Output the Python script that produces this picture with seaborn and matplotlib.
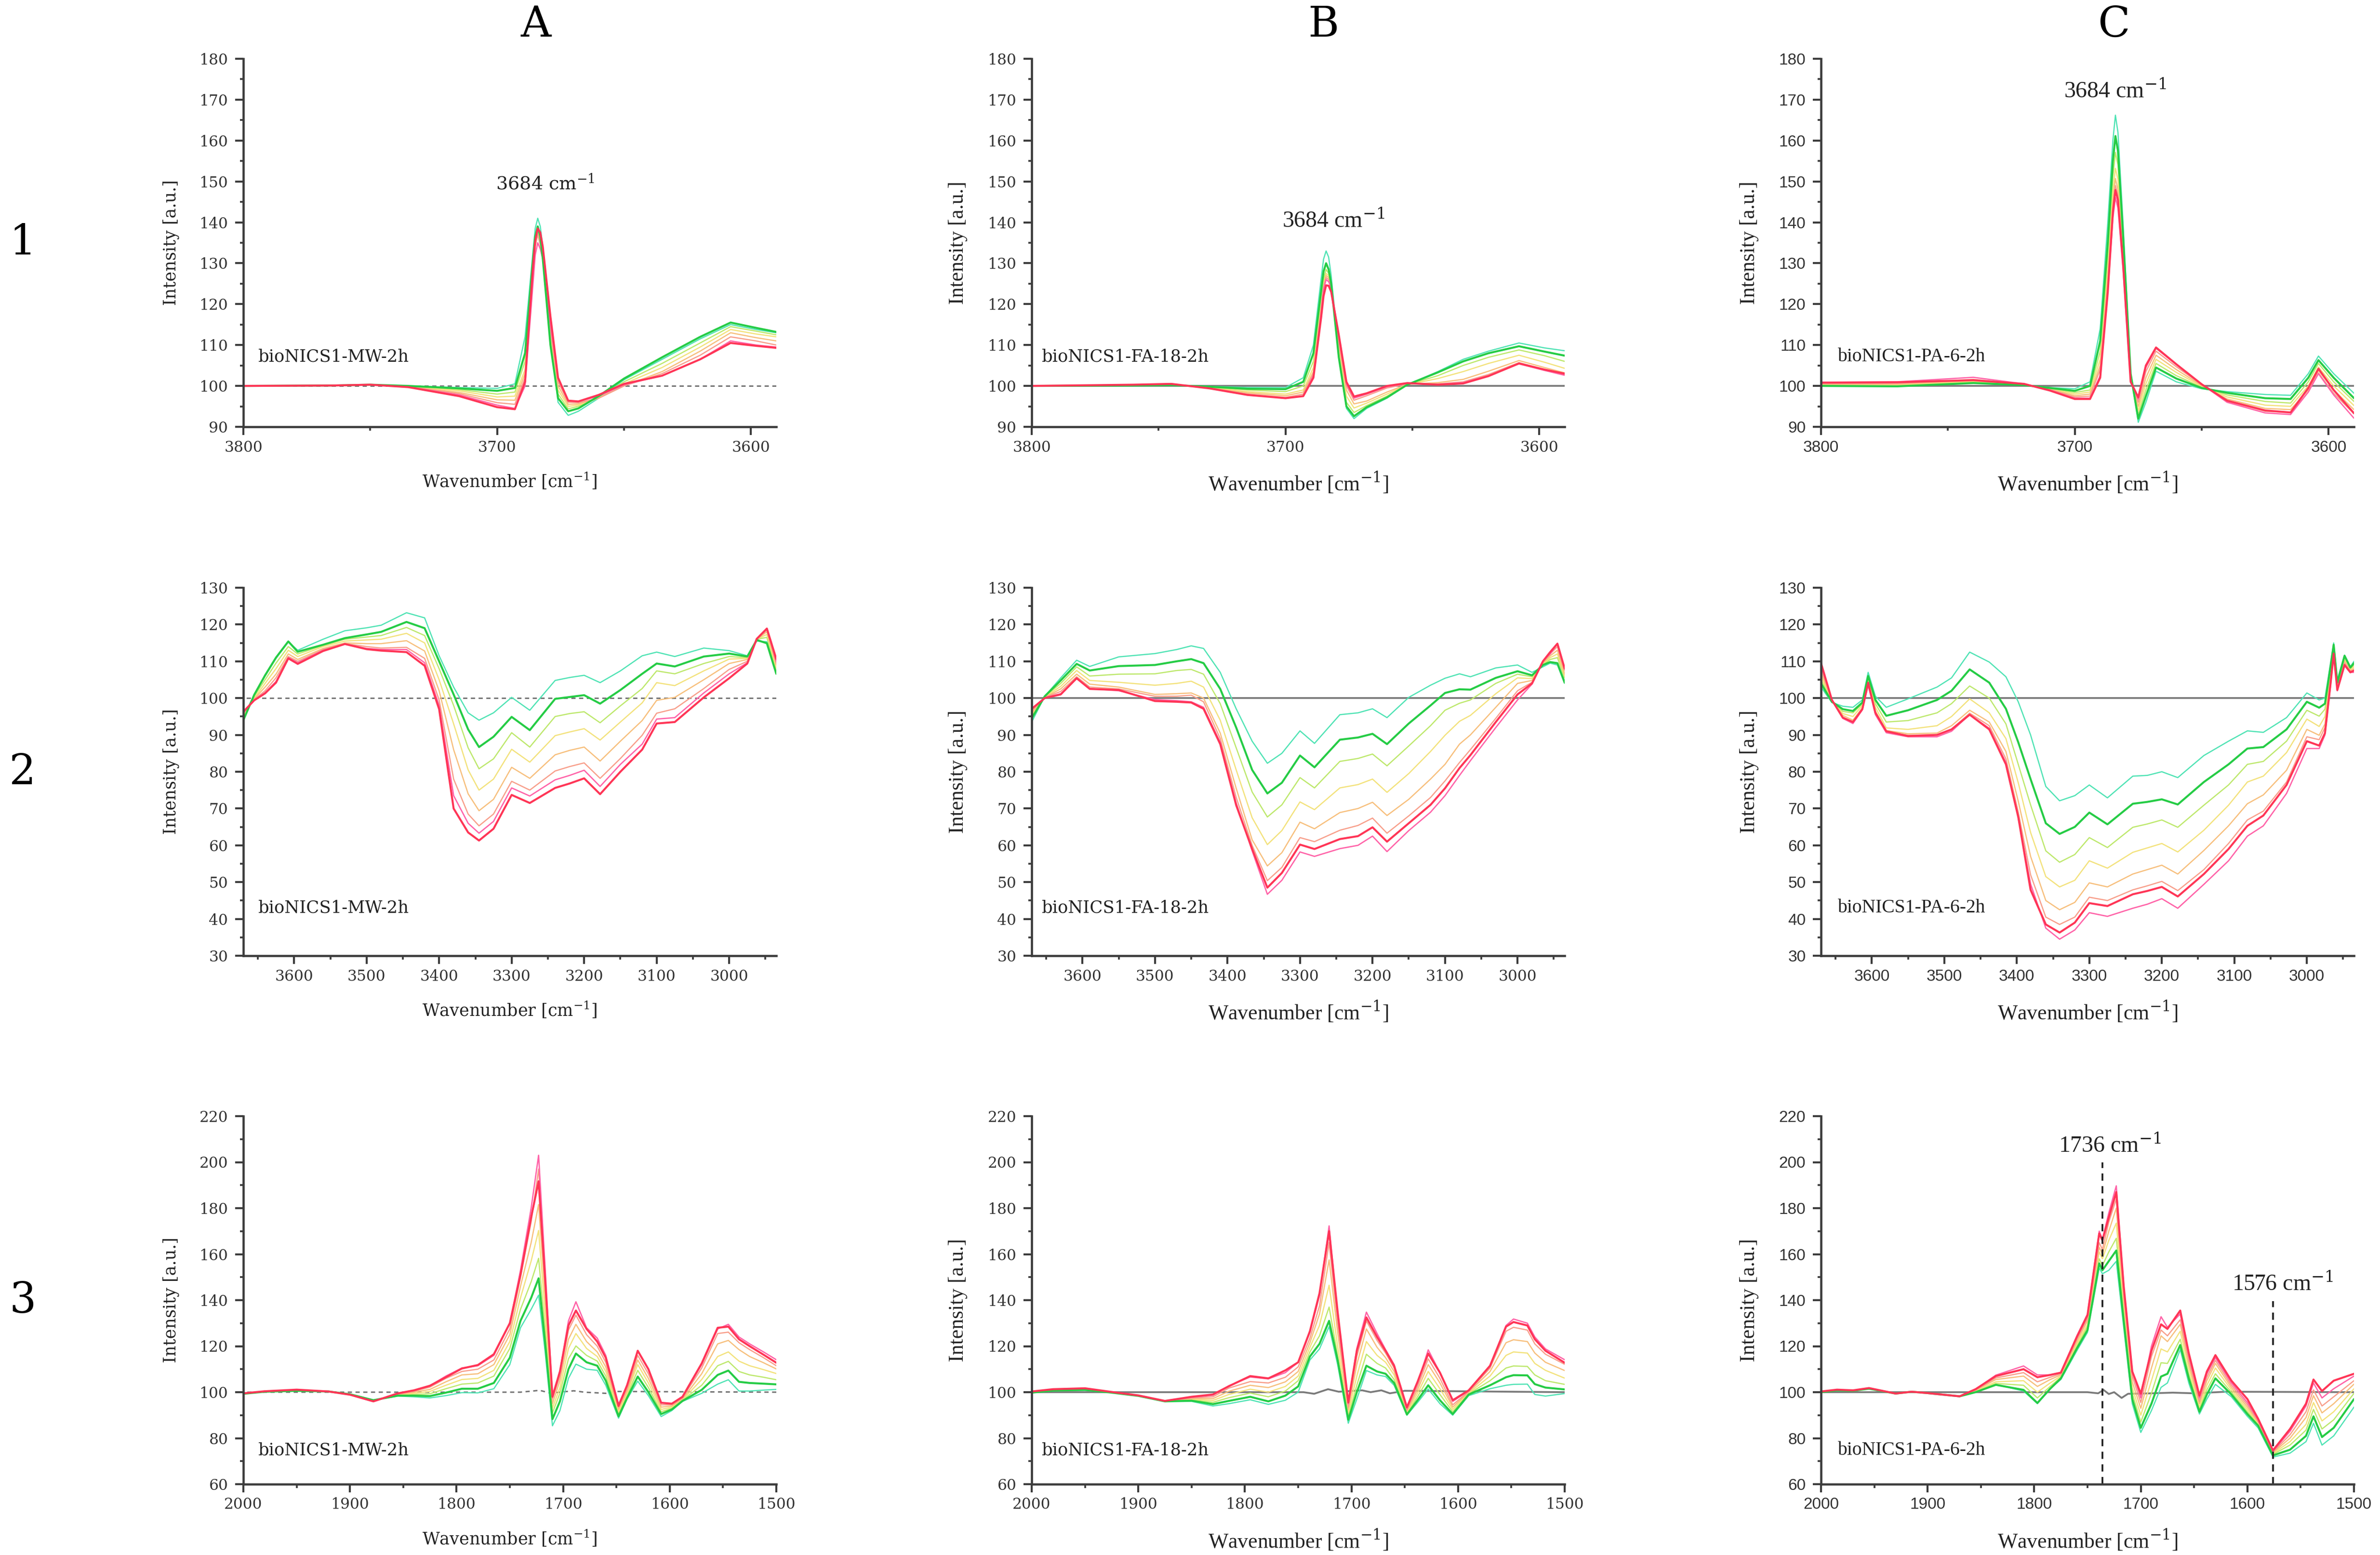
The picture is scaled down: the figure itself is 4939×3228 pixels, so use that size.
import pandas as pd
import matplotlib.pyplot as plt
import seaborn as sns
from matplotlib.ticker import MultipleLocator

sns.set_style("ticks")
plt.rcParams['font.family'] = ['DejaVu Serif']
plt.rcParams['mathtext.fontset'] = 'dejavuserif'

# 8 spectra per panel, from aquamarine to red
CURVES = ['aqua', 'green', 'lightgreen', 'yellow', 'lightorange', 'salmon', 'pink', 'red']
COLORS = {'aqua': '#4fe3b4', 'green': '#25cc45', 'lightgreen': '#bde86c', 'yellow': '#f3e27c',
          'lightorange': '#f7bf7c', 'salmon': '#f89e8a', 'pink': '#ff63a8', 'red': '#ff3556'}
WIDTHS = {'aqua': 0.6, 'green': 1.0, 'lightgreen': 0.6, 'yellow': 0.6,
          'lightorange': 0.6, 'salmon': 0.6, 'pink': 0.65, 'red': 1.0}
DRAW_ORDER = ['aqua', 'lightgreen', 'yellow', 'lightorange', 'salmon', 'pink', 'green', 'red']

SAMPLES = ['bioNICS1-MW-2h', 'bioNICS1-FA-18-2h', 'bioNICS1-PA-6-2h']
COLUMN_TITLES = ['A', 'B', 'C']
ROW_TITLES = ['1', '2', '3']

# rows: wavenumber, aqua, green, lightgreen, yellow, lightorange, salmon, pink, red
A1 = [
    [3800, 100.0, 100.0, 100.0, 100.0, 100.0, 100.0, 100.0, 100.0],
    [3765, 100.1, 100.1, 100.1, 100.1, 100.1, 100.1, 100.1, 100.1],
    [3750, 100.3, 100.3, 100.3, 100.3, 100.3, 100.3, 100.3, 100.3],
    [3735, 100.0, 100.0, 99.9, 99.9, 99.8, 99.8, 99.7, 99.7],
    [3715, 99.6, 99.4, 99.1, 98.8, 98.4, 98.1, 97.8, 97.5],
    [3700, 99.4, 98.8, 98.0, 97.3, 96.6, 95.9, 95.3, 94.8],
    [3693, 100.5, 99.5, 98.5, 97.5, 96.5, 95.5, 94.5, 94.3],
    [3689, 112.0, 108.0, 106.0, 104.0, 103.0, 102.0, 100.0, 101.0],
    [3686, 132.0, 130.0, 129.0, 128.0, 127.0, 126.0, 124.0, 128.0],
    [3685, 138.5, 136.5, 135.5, 135.0, 134.5, 134.0, 132.0, 135.5],
    [3684, 141.0, 139.0, 138.5, 138.0, 137.5, 137.0, 135.0, 138.5],
    [3683, 139.0, 136.5, 136.0, 135.5, 135.0, 134.5, 133.5, 137.5],
    [3682, 134.0, 131.0, 131.0, 131.0, 131.0, 131.0, 131.0, 134.0],
    [3679, 112.0, 110.0, 111.0, 112.0, 113.0, 114.0, 115.0, 117.0],
    [3676, 96.0, 97.0, 98.0, 99.0, 100.0, 101.0, 102.0, 102.0],
    [3672, 92.8, 93.8, 94.4, 95.0, 95.5, 96.0, 96.3, 96.4],
    [3668, 93.8, 94.5, 95.0, 95.3, 95.6, 95.9, 96.2, 96.2],
    [3660, 97.0, 97.5, 97.3, 97.0, 97.0, 97.0, 97.5, 97.8],
    [3650, 101.5, 101.8, 101.0, 100.5, 100.0, 100.0, 100.3, 100.5],
    [3635, 106.5, 107.0, 105.5, 104.5, 103.5, 103.0, 102.5, 102.5],
    [3620, 111.5, 112.0, 110.5, 109.5, 108.5, 107.5, 106.5, 106.5],
    [3608, 115.0, 115.5, 114.5, 113.8, 113.0, 112.0, 111.0, 110.5],
    [3598, 113.8, 114.2, 113.4, 112.7, 111.8, 111.0, 110.0, 109.8],
    [3590, 113.0, 113.2, 112.5, 112.0, 111.0, 110.0, 109.5, 109.3],
]

A2 = [
    [3670, 95.0, 94.0, 94.5, 95.0, 95.5, 96.0, 96.0, 96.3],
    [3655, 100.8, 100.9, 100.5, 100.0, 99.8, 99.6, 99.5, 99.4],
    [3640, 106.0, 106.2, 105.0, 104.0, 103.0, 102.0, 101.5, 101.3],
    [3625, 110.8, 111.0, 109.5, 108.0, 106.5, 105.5, 104.5, 104.2],
    [3608, 115.3, 115.4, 114.0, 113.0, 112.0, 111.3, 111.0, 110.8],
    [3595, 113.0, 112.6, 112.0, 111.3, 110.5, 110.0, 109.6, 109.3],
    [3560, 116.0, 114.5, 114.3, 114.0, 113.5, 113.2, 113.0, 112.8],
    [3530, 118.3, 116.3, 116.0, 115.5, 115.0, 114.8, 114.7, 114.7],
    [3500, 119.1, 117.3, 116.6, 115.8, 114.8, 114.0, 113.5, 113.3],
    [3480, 119.8, 118.0, 117.0, 116.0, 114.8, 113.6, 113.2, 112.9],
    [3445, 123.2, 120.7, 119.2, 117.6, 115.6, 113.8, 113.2, 112.5],
    [3420, 121.8, 119.0, 117.0, 115.0, 112.8, 110.8, 109.6, 108.8],
    [3400, 111.5, 110.0, 108.0, 105.0, 102.0, 99.5, 98.0, 97.0],
    [3380, 103.0, 101.0, 98.0, 93.0, 86.0, 78.0, 73.5, 70.0],
    [3360, 96.0, 91.5, 86.5, 80.5, 74.0, 68.5, 66.0, 63.5],
    [3345, 94.0, 86.7, 80.8, 75.0, 69.4, 65.3, 63.3, 61.3],
    [3325, 96.0, 89.5, 83.5, 78.0, 72.5, 68.5, 66.5, 64.5],
    [3300, 100.2, 94.9, 90.6, 86.1, 81.2, 77.4, 75.6, 73.7],
    [3275, 96.7, 91.3, 86.7, 82.6, 78.2, 75.0, 73.4, 71.5],
    [3240, 104.8, 99.8, 95.0, 89.8, 84.6, 80.2, 77.8, 75.6],
    [3220, 105.6, 100.3, 95.8, 90.8, 85.8, 81.4, 79.0, 76.8],
    [3200, 106.2, 100.8, 96.3, 91.7, 86.7, 82.4, 80.4, 78.2],
    [3178, 104.2, 98.5, 93.3, 88.6, 82.9, 78.2, 76.0, 73.9],
    [3150, 107.4, 102.2, 97.9, 93.5, 88.3, 83.6, 82.0, 80.0],
    [3120, 111.5, 106.6, 102.6, 98.7, 93.9, 89.9, 87.5, 86.0],
    [3100, 112.5, 109.4, 107.4, 104.2, 99.4, 95.9, 94.3, 93.1],
    [3075, 111.3, 108.6, 106.6, 103.4, 100.2, 97.1, 94.7, 93.5],
    [3035, 113.6, 111.3, 109.4, 107.4, 105.0, 102.6, 101.4, 100.2],
    [3000, 112.9, 112.1, 111.3, 110.6, 109.4, 107.8, 106.6, 105.4],
    [2975, 111.5, 111.3, 111.0, 110.8, 110.5, 110.0, 109.6, 109.4],
    [2962, 115.5, 115.8, 116.0, 116.0, 116.0, 116.0, 116.1, 116.1],
    [2948, 115.3, 114.9, 116.5, 117.3, 118.0, 118.5, 118.9, 118.9],
    [2935, 107.0, 106.6, 107.5, 108.0, 109.0, 109.5, 110.0, 110.6],
]

A3 = [
    [2000, 99.3, 99.3, 99.4, 99.4, 99.5, 99.5, 99.5, 99.5],
    [1980, 100.2, 100.2, 100.3, 100.3, 100.4, 100.4, 100.4, 100.4],
    [1950, 100.5, 100.6, 100.7, 100.8, 100.9, 101.0, 101.0, 101.1],
    [1920, 100.3, 100.3, 100.3, 100.3, 100.3, 100.3, 100.3, 100.3],
    [1900, 99.1, 99.1, 99.0, 99.0, 99.0, 98.9, 98.9, 98.9],
    [1878, 96.6, 96.5, 96.4, 96.3, 96.2, 96.1, 96.0, 96.0],
    [1855, 98.3, 98.5, 98.6, 98.8, 99.0, 99.2, 99.4, 99.5],
    [1840, 98.0, 98.5, 99.0, 99.5, 100.0, 100.4, 100.8, 100.8],
    [1825, 97.5, 98.3, 99.3, 100.3, 101.2, 102.2, 102.8, 102.8],
    [1810, 98.5, 99.8, 101.5, 103.0, 104.5, 106.0, 107.0, 106.5],
    [1795, 99.8, 101.5, 103.5, 105.5, 107.5, 109.0, 110.5, 110.3],
    [1780, 99.7, 101.5, 104.0, 106.0, 108.0, 110.0, 111.5, 111.8],
    [1765, 101.5, 104.0, 107.0, 109.5, 112.0, 114.0, 116.0, 116.5],
    [1750, 112.0, 115.0, 119.0, 122.0, 125.0, 127.5, 130.0, 130.0],
    [1740, 128.0, 131.0, 136.0, 141.0, 146.0, 150.0, 153.0, 151.0],
    [1730, 136.0, 141.0, 148.0, 157.0, 165.0, 174.0, 180.0, 176.0],
    [1723, 142.2, 149.5, 158.2, 170.3, 181.6, 197.0, 203.0, 191.7],
    [1717, 118.0, 122.0, 128.0, 135.0, 142.0, 150.0, 155.0, 150.0],
    [1710, 85.4, 88.3, 91.0, 93.0, 95.0, 97.0, 98.5, 98.0],
    [1703, 92.0, 96.0, 99.5, 102.0, 105.0, 107.0, 109.0, 109.0],
    [1695, 106.0, 110.0, 114.5, 119.0, 123.0, 127.0, 131.0, 129.0],
    [1688, 112.2, 116.8, 120.1, 125.5, 129.5, 133.5, 139.3, 135.5],
    [1678, 110.0, 113.0, 116.0, 119.0, 122.0, 125.0, 128.0, 127.5],
    [1668, 109.5, 111.5, 113.5, 115.5, 117.5, 120.0, 123.5, 122.0],
    [1660, 103.0, 105.0, 107.0, 109.0, 111.0, 113.0, 116.0, 115.0],
    [1648, 88.7, 89.5, 90.5, 91.5, 92.5, 93.5, 94.7, 94.0],
    [1640, 97.0, 97.5, 98.5, 99.5, 100.5, 101.5, 103.0, 103.0],
    [1630, 104.8, 106.8, 109.5, 112.0, 114.0, 116.0, 118.1, 118.0],
    [1620, 98.5, 100.0, 102.0, 104.0, 106.0, 108.0, 110.0, 110.0],
    [1608, 89.4, 90.5, 91.5, 92.5, 93.5, 94.5, 95.4, 95.4],
    [1598, 92.0, 92.5, 93.0, 93.5, 94.0, 94.5, 95.0, 95.0],
    [1588, 96.0, 96.2, 96.5, 96.7, 97.0, 97.5, 98.0, 98.0],
    [1570, 99.5, 101.0, 103.0, 105.5, 108.0, 110.5, 112.0, 112.5],
    [1555, 103.5, 107.5, 111.5, 115.5, 121.0, 125.5, 127.5, 128.0],
    [1545, 105.4, 109.4, 113.4, 117.5, 122.5, 126.1, 129.5, 128.5],
    [1535, 100.5, 104.5, 109.0, 113.5, 118.5, 121.5, 124.0, 123.0],
    [1525, 100.5, 104.0, 107.5, 111.5, 115.5, 118.5, 121.0, 120.0],
    [1512, 100.9, 103.7, 106.5, 109.8, 112.8, 115.0, 117.5, 116.3],
    [1500, 101.2, 103.4, 105.4, 108.1, 110.1, 111.5, 114.1, 112.8],
]

B1 = [
    [3800, 100.0, 100.0, 100.0, 100.0, 100.0, 100.0, 100.0, 100.0],
    [3760, 100.1, 100.1, 100.1, 100.2, 100.2, 100.3, 100.3, 100.3],
    [3745, 100.2, 100.2, 100.3, 100.3, 100.4, 100.5, 100.5, 100.5],
    [3730, 99.9, 99.8, 99.7, 99.6, 99.5, 99.5, 99.4, 99.4],
    [3715, 99.6, 99.3, 99.0, 98.6, 98.3, 98.0, 97.8, 97.8],
    [3700, 99.6, 99.2, 98.6, 98.0, 97.6, 97.2, 97.0, 97.0],
    [3693, 102.0, 101.0, 100.0, 99.0, 98.5, 98.0, 97.5, 97.5],
    [3689, 110.0, 108.0, 106.0, 104.5, 103.5, 103.0, 102.5, 102.0],
    [3686, 126.0, 123.0, 121.0, 120.0, 119.0, 118.0, 117.5, 116.5],
    [3685, 131.0, 128.0, 126.0, 125.0, 124.5, 124.0, 123.5, 122.0],
    [3684, 133.0, 130.0, 128.5, 127.5, 127.0, 126.5, 126.0, 124.6],
    [3683, 131.5, 128.5, 127.5, 127.0, 126.5, 126.0, 125.5, 124.5],
    [3682, 127.0, 125.0, 124.5, 124.0, 124.0, 124.0, 124.0, 123.0],
    [3679, 108.0, 107.0, 108.0, 109.0, 110.0, 111.0, 112.0, 112.5],
    [3676, 94.5, 95.0, 96.0, 97.5, 99.0, 100.0, 100.5, 101.0],
    [3673, 92.0, 92.6, 93.5, 94.6, 95.6, 96.5, 97.0, 97.4],
    [3668, 94.5, 94.8, 95.2, 95.8, 96.3, 97.6, 98.0, 98.2],
    [3660, 97.0, 97.2, 97.5, 98.0, 98.5, 99.5, 99.8, 100.0],
    [3652, 100.3, 100.3, 100.3, 100.3, 100.4, 100.5, 100.6, 100.7],
    [3640, 103.5, 103.3, 102.5, 101.8, 100.8, 100.5, 100.4, 100.3],
    [3630, 106.5, 106.0, 105.0, 103.5, 101.6, 101.0, 100.8, 100.6],
    [3620, 108.5, 108.0, 107.0, 105.5, 103.6, 102.8, 102.5, 102.4],
    [3608, 110.5, 109.7, 108.8, 107.5, 106.2, 105.7, 105.4, 105.5],
    [3598, 109.3, 108.4, 107.4, 105.8, 104.5, 104.0, 103.8, 104.0],
    [3590, 108.6, 107.4, 106.0, 104.3, 103.2, 102.8, 102.6, 103.0],
]

B2 = [
    [3670, 93.5, 94.5, 95.0, 95.5, 96.0, 96.5, 97.0, 97.1],
    [3652, 100.5, 100.5, 100.4, 100.3, 100.2, 100.2, 100.1, 100.0],
    [3630, 105.5, 104.8, 104.0, 103.2, 102.5, 101.8, 101.2, 101.0],
    [3608, 110.3, 109.3, 108.5, 107.5, 106.5, 105.8, 105.3, 105.4],
    [3590, 108.6, 107.5, 106.0, 104.8, 103.8, 103.0, 102.6, 102.5],
    [3550, 111.2, 108.7, 106.5, 104.3, 103.0, 102.5, 102.0, 102.2],
    [3500, 112.1, 109.0, 106.6, 103.5, 101.0, 100.5, 99.6, 99.2],
    [3470, 113.2, 110.0, 107.5, 104.0, 101.2, 100.5, 99.3, 99.0],
    [3450, 114.2, 110.6, 107.8, 104.6, 101.4, 100.8, 99.0, 98.8],
    [3433, 113.5, 109.5, 106.5, 103.0, 100.0, 99.0, 97.5, 97.1],
    [3410, 107.0, 102.5, 98.5, 94.0, 90.5, 89.0, 88.0, 87.5],
    [3388, 97.1, 92.0, 86.5, 80.5, 75.5, 73.0, 71.5, 70.9],
    [3366, 88.3, 80.5, 74.5, 67.5, 61.5, 60.0, 58.5, 59.0],
    [3345, 82.3, 74.1, 67.7, 60.2, 54.4, 50.4, 46.7, 48.5],
    [3325, 85.0, 77.0, 71.0, 64.0, 58.0, 54.0, 50.5, 52.5],
    [3300, 91.1, 84.4, 78.4, 71.8, 66.3, 62.1, 58.2, 60.2],
    [3280, 87.7, 81.2, 75.6, 69.7, 64.5, 61.0, 57.0, 59.0],
    [3245, 95.5, 88.7, 82.8, 75.6, 68.9, 64.1, 59.1, 61.7],
    [3220, 96.0, 89.3, 83.6, 76.5, 70.0, 65.4, 60.0, 62.5],
    [3200, 97.1, 90.3, 84.8, 78.0, 71.7, 67.4, 62.5, 64.9],
    [3180, 94.7, 87.5, 81.6, 74.4, 68.1, 63.3, 58.3, 61.0],
    [3150, 100.2, 93.1, 87.0, 79.5, 72.5, 68.0, 64.0, 66.0],
    [3120, 103.5, 98.0, 92.5, 85.5, 78.0, 73.0, 69.0, 71.0],
    [3100, 105.4, 101.4, 96.7, 89.9, 82.0, 77.5, 73.5, 75.5],
    [3080, 106.6, 102.4, 98.6, 93.7, 87.5, 82.5, 79.0, 81.0],
    [3065, 105.8, 102.3, 99.5, 95.3, 90.0, 86.0, 83.0, 84.5],
    [3030, 108.2, 105.5, 104.0, 101.2, 97.5, 94.5, 92.0, 93.5],
    [3000, 109.0, 107.3, 106.5, 105.5, 104.0, 102.0, 99.5, 101.0],
    [2980, 107.0, 106.2, 105.8, 105.3, 104.8, 104.3, 103.8, 104.0],
    [2965, 108.5, 109.0, 109.0, 109.3, 109.5, 109.8, 110.0, 110.0],
    [2955, 109.5, 109.8, 110.5, 111.0, 111.5, 112.0, 112.0, 112.5],
    [2945, 109.0, 109.5, 111.0, 112.0, 113.0, 114.0, 114.8, 114.8],
    [2935, 104.0, 104.2, 105.5, 106.0, 106.5, 107.5, 108.0, 108.0],
]

B3 = [
    [2000, 99.7, 99.8, 99.9, 100.0, 100.1, 100.2, 100.3, 100.3],
    [1980, 100.6, 100.7, 100.8, 100.9, 101.0, 101.1, 101.2, 101.3],
    [1950, 100.8, 101.0, 101.1, 101.3, 101.4, 101.5, 101.6, 101.7],
    [1925, 99.8, 99.8, 99.9, 99.9, 100.0, 100.0, 100.0, 100.1],
    [1900, 98.4, 98.4, 98.5, 98.5, 98.5, 98.5, 98.6, 98.6],
    [1875, 96.0, 96.0, 96.1, 96.1, 96.2, 96.2, 96.2, 96.2],
    [1850, 96.0, 96.3, 96.6, 96.9, 97.2, 97.5, 97.8, 98.0],
    [1830, 94.0, 94.8, 95.6, 96.4, 97.2, 98.0, 98.7, 99.0],
    [1815, 95.0, 96.2, 97.6, 99.0, 100.4, 101.8, 102.8, 102.6],
    [1795, 96.7, 98.0, 99.6, 101.3, 103.0, 104.6, 106.6, 107.0],
    [1778, 94.7, 96.0, 98.0, 100.0, 102.0, 104.0, 105.8, 106.0],
    [1762, 96.5, 98.5, 100.5, 102.5, 104.5, 106.5, 108.5, 109.5],
    [1750, 100.0, 102.5, 105.0, 107.0, 109.0, 111.0, 113.0, 113.0],
    [1739, 114.0, 115.5, 117.5, 119.5, 121.5, 123.5, 126.0, 126.5],
    [1730, 118.8, 121.0, 124.5, 129.0, 134.0, 137.5, 142.0, 143.0],
    [1721, 128.5, 131.0, 137.0, 146.5, 157.5, 165.0, 172.3, 170.0],
    [1713, 112.0, 114.0, 116.0, 120.0, 126.0, 130.0, 134.0, 135.0],
    [1703, 86.5, 88.0, 89.5, 91.0, 92.5, 93.5, 95.0, 95.5],
    [1695, 97.0, 100.0, 103.0, 107.0, 112.0, 115.5, 119.0, 118.0],
    [1686, 109.4, 111.5, 116.5, 122.0, 127.5, 131.0, 134.8, 132.5],
    [1676, 107.5, 109.0, 112.5, 116.0, 119.5, 122.5, 125.5, 124.0],
    [1668, 106.8, 108.0, 110.5, 113.0, 115.0, 117.0, 118.5, 118.0],
    [1660, 103.0, 104.0, 105.5, 107.5, 109.0, 110.5, 112.0, 111.5],
    [1648, 90.0, 90.3, 90.7, 91.2, 91.8, 92.3, 93.0, 93.4],
    [1638, 95.5, 96.5, 98.0, 99.5, 101.0, 102.5, 104.0, 104.5],
    [1628, 101.4, 103.0, 106.0, 109.0, 112.0, 114.5, 118.4, 116.8],
    [1617, 95.0, 96.5, 99.0, 101.5, 104.0, 106.0, 108.5, 108.5],
    [1605, 90.0, 90.5, 91.5, 92.5, 93.5, 94.5, 96.0, 96.5],
    [1590, 98.5, 99.0, 99.3, 99.6, 100.0, 100.3, 100.6, 100.8],
    [1570, 101.5, 103.0, 105.0, 107.0, 109.0, 110.5, 111.5, 111.5],
    [1555, 103.0, 106.5, 110.5, 116.0, 121.5, 126.5, 129.0, 128.5],
    [1548, 103.4, 107.4, 111.4, 117.5, 122.8, 128.2, 131.8, 130.5],
    [1535, 103.5, 107.3, 111.2, 117.0, 122.0, 127.0, 130.0, 129.0],
    [1528, 99.0, 103.5, 107.5, 112.5, 117.0, 121.0, 124.0, 123.0],
    [1518, 98.3, 102.0, 105.0, 109.5, 113.0, 116.5, 118.8, 118.0],
    [1500, 99.4, 101.2, 103.4, 106.1, 109.4, 112.1, 114.1, 112.8],
]

C1 = [
    [3800, 100.0, 100.0, 100.1, 100.2, 100.4, 100.6, 100.9, 100.8],
    [3770, 100.0, 99.9, 100.1, 100.2, 100.4, 100.6, 101.0, 100.9],
    [3740, 100.7, 100.7, 100.9, 101.1, 101.3, 101.6, 102.1, 101.4],
    [3720, 100.2, 100.2, 100.3, 100.3, 100.4, 100.4, 100.5, 100.5],
    [3710, 99.6, 99.5, 99.4, 99.3, 99.2, 99.1, 99.0, 98.9],
    [3700, 99.3, 98.8, 98.4, 98.0, 97.6, 97.3, 97.0, 96.8],
    [3694, 101.0, 100.0, 99.0, 98.5, 98.0, 97.5, 97.0, 96.8],
    [3690, 114.0, 111.0, 108.5, 106.5, 105.0, 104.0, 102.5, 102.0],
    [3687, 140.0, 135.0, 131.0, 128.0, 126.0, 125.0, 123.0, 123.0],
    [3685, 160.0, 155.0, 151.0, 147.5, 145.0, 143.5, 141.0, 142.5],
    [3684, 166.2, 161.1, 157.1, 153.2, 150.7, 149.0, 146.1, 147.9],
    [3683, 162.0, 157.5, 154.0, 150.5, 148.0, 146.5, 143.5, 145.5],
    [3681, 140.0, 137.0, 135.0, 132.0, 130.5, 130.0, 128.5, 130.0],
    [3678, 103.0, 103.0, 103.0, 102.5, 102.0, 101.5, 101.0, 101.0],
    [3675, 91.1, 92.0, 93.0, 94.0, 95.0, 96.0, 96.8, 97.2],
    [3672, 96.0, 97.5, 99.0, 100.5, 102.0, 103.5, 104.5, 105.0],
    [3668, 103.6, 104.5, 105.5, 106.5, 107.5, 108.5, 109.2, 109.4],
    [3660, 101.0, 101.8, 102.5, 103.3, 104.0, 104.7, 105.2, 105.3],
    [3650, 99.3, 99.5, 99.7, 99.9, 100.1, 100.3, 100.4, 100.4],
    [3640, 98.6, 98.3, 97.8, 97.3, 96.8, 96.3, 96.0, 96.4],
    [3625, 97.9, 97.0, 96.2, 95.3, 94.5, 93.8, 93.4, 94.0],
    [3615, 97.7, 96.8, 95.8, 95.0, 94.2, 93.5, 93.0, 93.5],
    [3608, 103.0, 102.0, 101.0, 100.0, 99.0, 98.5, 98.5, 99.5],
    [3604, 107.3, 106.3, 105.5, 104.6, 103.8, 103.2, 103.0, 104.2],
    [3598, 103.0, 102.0, 101.0, 100.0, 99.0, 98.2, 97.8, 99.0],
    [3590, 98.2, 97.0, 96.2, 95.2, 94.2, 93.2, 92.1, 93.3],
]

C2 = [
    [3670, 103.0, 104.0, 105.0, 106.0, 107.0, 108.0, 109.0, 109.5],
    [3655, 98.8, 99.0, 99.2, 99.3, 99.4, 99.5, 99.5, 99.5],
    [3640, 97.8, 97.0, 96.4, 95.8, 95.3, 94.8, 94.5, 94.7],
    [3626, 97.5, 96.5, 96.0, 95.0, 94.0, 93.5, 93.1, 93.5],
    [3613, 99.5, 98.8, 98.4, 98.0, 97.4, 97.0, 96.8, 97.0],
    [3605, 107.0, 106.0, 105.5, 105.0, 104.2, 103.8, 103.5, 104.2],
    [3595, 100.5, 99.5, 98.5, 97.5, 96.5, 96.0, 95.5, 96.0],
    [3580, 97.5, 95.2, 93.5, 91.9, 91.2, 90.8, 90.6, 91.0],
    [3550, 99.8, 96.7, 93.9, 91.5, 90.3, 89.9, 89.5, 89.7],
    [3510, 103.0, 99.5, 96.0, 92.5, 90.5, 90.0, 89.5, 90.0],
    [3490, 105.5, 102.0, 98.5, 95.0, 92.5, 91.5, 91.0, 91.5],
    [3465, 112.5, 107.8, 103.3, 99.8, 96.7, 95.9, 95.5, 95.5],
    [3438, 109.8, 104.2, 100.0, 96.0, 93.5, 92.5, 91.8, 91.5],
    [3415, 105.8, 97.1, 93.0, 89.0, 85.5, 83.5, 82.5, 82.0],
    [3398, 99.0, 88.0, 82.0, 77.0, 72.0, 69.0, 67.5, 67.7],
    [3381, 90.0, 78.0, 71.0, 63.5, 57.0, 52.0, 49.5, 47.9],
    [3360, 76.0, 66.0, 58.5, 51.5, 45.0, 40.5, 37.5, 38.5],
    [3341, 72.1, 63.1, 55.4, 48.7, 42.5, 38.5, 34.5, 36.3],
    [3320, 73.5, 65.0, 57.5, 50.5, 44.5, 40.5, 37.0, 39.0],
    [3300, 76.4, 68.9, 62.1, 55.8, 49.8, 45.9, 41.7, 44.3],
    [3275, 72.9, 65.7, 59.4, 53.8, 48.7, 45.0, 40.7, 43.5],
    [3240, 78.8, 71.3, 64.9, 58.1, 52.2, 47.9, 42.9, 46.7],
    [3220, 79.0, 71.8, 65.8, 59.3, 53.4, 49.0, 44.0, 47.6],
    [3200, 80.0, 72.5, 66.9, 60.5, 54.6, 50.2, 45.5, 48.7],
    [3178, 78.4, 71.1, 64.9, 58.2, 52.2, 47.7, 42.9, 46.1],
    [3142, 84.4, 77.2, 70.9, 64.1, 58.6, 53.4, 49.4, 52.2],
    [3108, 88.3, 82.0, 76.4, 70.9, 65.3, 60.5, 55.8, 59.0],
    [3082, 91.1, 86.3, 82.0, 77.2, 71.3, 66.9, 62.5, 65.3],
    [3060, 90.7, 86.7, 82.8, 78.8, 73.7, 69.3, 65.3, 68.1],
    [3028, 94.7, 91.5, 88.3, 85.2, 80.4, 77.2, 74.1, 76.4],
    [3000, 101.4, 99.0, 96.7, 94.3, 91.5, 89.5, 86.3, 88.3],
    [2983, 99.5, 97.4, 95.1, 92.3, 89.9, 88.7, 86.3, 87.1],
    [2975, 100.0, 98.5, 97.0, 95.0, 93.0, 92.0, 90.0, 90.5],
    [2967, 110.0, 109.0, 108.0, 107.0, 106.0, 105.0, 104.0, 104.5],
    [2963, 115.0, 114.5, 113.5, 113.0, 112.5, 112.0, 112.0, 112.1],
    [2958, 105.0, 104.2, 103.5, 103.0, 102.5, 102.0, 102.0, 102.2],
    [2948, 111.7, 111.5, 111.0, 110.5, 110.0, 109.5, 109.0, 109.0],
    [2940, 108.5, 108.3, 108.0, 107.8, 107.5, 107.3, 107.0, 107.0],
    [2935, 110.0, 109.5, 109.0, 108.5, 108.0, 107.5, 107.0, 107.5],
]

C3 = [
    [2000, 100.0, 100.0, 100.0, 100.1, 100.1, 100.2, 100.3, 100.3],
    [1985, 100.8, 100.8, 100.9, 100.9, 101.0, 101.0, 101.1, 101.1],
    [1970, 100.6, 100.6, 100.6, 100.7, 100.7, 100.7, 100.8, 100.8],
    [1955, 101.5, 101.5, 101.6, 101.6, 101.7, 101.7, 101.8, 101.8],
    [1930, 99.4, 99.4, 99.4, 99.4, 99.4, 99.4, 99.4, 99.4],
    [1915, 100.2, 100.2, 100.2, 100.2, 100.2, 100.2, 100.2, 100.2],
    [1900, 99.6, 99.6, 99.6, 99.6, 99.6, 99.6, 99.6, 99.6],
    [1870, 98.2, 98.2, 98.2, 98.2, 98.2, 98.2, 98.2, 98.2],
    [1855, 100.0, 100.0, 100.2, 100.5, 100.8, 101.0, 101.3, 101.3],
    [1836, 103.3, 103.2, 103.8, 104.5, 105.5, 106.2, 107.4, 107.0],
    [1810, 100.5, 101.0, 103.0, 105.0, 107.0, 108.5, 111.4, 110.0],
    [1797, 95.0, 95.3, 97.5, 100.0, 102.5, 104.5, 107.5, 106.5],
    [1785, 101.5, 101.5, 102.5, 104.0, 105.5, 106.5, 107.5, 107.5],
    [1775, 105.5, 106.0, 106.5, 107.0, 107.5, 108.0, 108.5, 108.5],
    [1760, 118.0, 119.0, 120.0, 121.0, 122.0, 123.0, 124.5, 124.0],
    [1750, 126.0, 127.0, 128.5, 129.5, 131.0, 132.0, 134.0, 133.5],
    [1739, 154.0, 156.0, 158.0, 161.0, 163.0, 165.0, 170.0, 169.0],
    [1736, 151.5, 153.0, 155.0, 158.0, 160.0, 162.0, 166.5, 166.0],
    [1730, 153.0, 157.0, 161.0, 166.0, 170.0, 174.0, 178.0, 176.0],
    [1723, 156.9, 161.6, 166.9, 173.5, 180.0, 184.0, 189.7, 187.0],
    [1716, 128.0, 131.0, 134.0, 137.0, 140.0, 143.0, 146.0, 146.0],
    [1708, 95.0, 97.0, 99.5, 102.0, 104.5, 107.0, 109.0, 109.0],
    [1700, 82.5, 84.5, 87.0, 90.0, 93.0, 95.5, 97.5, 99.3],
    [1690, 92.0, 95.0, 99.5, 105.0, 110.5, 115.5, 120.0, 118.0],
    [1681, 102.1, 106.8, 112.8, 118.8, 124.5, 127.0, 132.8, 129.5],
    [1675, 104.0, 108.0, 112.5, 117.5, 122.0, 124.5, 128.2, 127.5],
    [1663, 118.5, 120.5, 123.0, 126.5, 129.5, 131.5, 134.0, 135.5],
    [1655, 104.0, 106.0, 108.0, 110.5, 112.5, 114.0, 116.0, 117.0],
    [1645, 90.5, 91.5, 92.5, 93.5, 95.0, 96.0, 97.5, 98.5],
    [1638, 97.0, 99.0, 101.0, 103.0, 105.0, 106.5, 108.0, 109.0],
    [1630, 103.4, 106.0, 108.0, 110.5, 112.5, 113.8, 115.0, 116.1],
    [1615, 98.0, 99.0, 100.0, 101.0, 102.0, 103.0, 104.0, 105.0],
    [1600, 89.5, 90.5, 91.5, 92.5, 93.5, 94.5, 95.5, 97.0],
    [1590, 84.5, 85.5, 86.0, 86.5, 87.0, 87.5, 88.0, 88.5],
    [1576, 71.8, 72.5, 73.0, 73.3, 73.7, 74.0, 74.3, 74.7],
    [1560, 73.5, 75.0, 77.0, 78.5, 80.0, 81.5, 83.0, 84.0],
    [1545, 78.5, 81.0, 83.5, 86.0, 89.0, 91.5, 94.0, 95.0],
    [1538, 86.5, 89.5, 92.5, 95.5, 98.5, 101.0, 104.0, 105.5],
    [1530, 77.0, 80.5, 84.0, 87.5, 91.0, 94.0, 97.5, 100.5],
    [1519, 81.0, 84.5, 88.0, 91.5, 95.0, 98.0, 101.5, 105.0],
    [1500, 93.5, 97.0, 99.5, 101.5, 103.5, 105.0, 107.0, 108.0],
]

# reference (background) spectra, wavenumber / intensity
BASE_ROW1 = [[3800, 100.0], [3590, 100.0]]
BASE_ROW2 = [[3670, 100.0], [2935, 100.0]]
BASE_A3 = [[2000, 100.0], [1740, 100.0], [1722, 100.8], [1712, 99.6], [1690, 100.6],
           [1680, 100.0], [1660, 99.5], [1650, 100.3], [1500, 100.0]]
BASE_B3 = [[2000, 100.0], [1745, 100.0], [1735, 99.3], [1722, 101.3], [1712, 100.2],
           [1690, 100.8], [1682, 100.0], [1672, 100.8], [1664, 99.5], [1650, 100.6], [1500, 100.0]]
BASE_C3 = [[2000, 100.0], [1750, 100.0], [1740, 99.5], [1735, 101.0], [1730, 99.2],
           [1725, 100.0], [1718, 97.5], [1712, 99.3], [1690, 99.5], [1670, 99.8],
           [1650, 99.5], [1620, 100.2], [1500, 100.0]]

# peak annotations: (wavenumber, label y)
PEAK_A1 = (3681, 149.5)
PEAK_B1 = (3681, 140.3)
PEAK_C1 = (3684, 172.0)
# C3 marked bands: (wavenumber, top of dashed line, label x, label y)
BANDS_C3 = [(1736, 200.0, 1729, 207.0), (1576, 139.5, 1567, 147.0)]

W, H = 4939, 3228
COL_LEFT = [505, 2141, 3779]
ROW_TOP = [122, 1220, 2317]
AX_W, AX_H = 1106, 764

XLIMS = [(3800, 3590), (3670, 2935), (2000, 1500)]
YLIMS = [(90, 180), (30, 130), (60, 220)]
YSTEP = [10, 10, 20]
LABEL_Y = [0.19, 0.13, 0.092]
LABEL_X = [0.028, 0.019, 0.031]

TABLES = [[A1, B1, C1], [A2, B2, C2], [A3, B3, C3]]
BASES = [[BASE_ROW1, BASE_ROW1, BASE_ROW1], [BASE_ROW2, BASE_ROW2, BASE_ROW2], [BASE_A3, BASE_B3, BASE_C3]]

fig = plt.figure(figsize=(W / 300, H / 300), dpi=300)
axis_color = '#3c3c3c'

for r in range(3):
    for c in range(3):
        ax = fig.add_axes([COL_LEFT[c] / W, 1 - (ROW_TOP[r] + AX_H) / H, AX_W / W, AX_H / H])
        df = pd.DataFrame(TABLES[r][c], columns=['wn'] + CURVES)
        long = df.melt(id_vars='wn', var_name='curve', value_name='intensity')

        base = pd.DataFrame(BASES[r][c], columns=['wn', 'intensity'])
        if c == 0:
            sns.lineplot(data=base, x='wn', y='intensity', ax=ax, color='#707070', lw=0.7,
                         linestyle=(0, (3, 2.5)), estimator=None)
        else:
            sns.lineplot(data=base, x='wn', y='intensity', ax=ax, color='#7a7a7a', lw=0.9,
                         estimator=None)

        for name in DRAW_ORDER:
            sub = long[long['curve'] == name]
            sns.lineplot(data=sub, x='wn', y='intensity', ax=ax, color=COLORS[name],
                         lw=WIDTHS[name], estimator=None, legend=False)

        ax.set_xlim(*XLIMS[r])
        ax.set_ylim(*YLIMS[r])
        ax.xaxis.set_major_locator(MultipleLocator(100))
        ax.xaxis.set_minor_locator(MultipleLocator(50))
        ax.yaxis.set_major_locator(MultipleLocator(YSTEP[r]))
        ax.yaxis.set_minor_locator(MultipleLocator(YSTEP[r] / 2))
        sns.despine(ax=ax)
        for side in ['left', 'bottom']:
            ax.spines[side].set_linewidth(1.1)
            ax.spines[side].set_color(axis_color)

        tick_font = 'Liberation Sans' if c == 2 else 'DejaVu Serif'
        tick_size = 8 if c == 2 else 7.5
        ax.tick_params(which='major', direction='out', length=4, width=1.0, color=axis_color,
                       labelsize=tick_size, labelcolor='#333333', labelfontfamily=tick_font)
        ax.tick_params(which='minor', direction='out', length=1.8, width=0.9, color=axis_color)
        ax.tick_params(axis='x', pad=2.6)
        ax.tick_params(axis='y', pad=3.6)

        if c == 0:
            lab_font, lab_size = 'DejaVu Serif', 8.4
        else:
            lab_font, lab_size = 'Liberation Serif', 10.5
        ax.set_xlabel('Wavenumber [cm$^{-1}$]', fontsize=lab_size, family=lab_font,
                      color='#222222', labelpad=8)
        ax.set_ylabel('Intensity [a.u.]', fontsize=lab_size, family=lab_font,
                      color='#222222', labelpad=10)

        name_font = 'Liberation Serif' if c == 2 else 'DejaVu Serif'
        name_size = 9.5 if c == 2 else 8.5
        ax.text(LABEL_X[c], LABEL_Y[r], SAMPLES[c], transform=ax.transAxes, ha='left',
                va='center', fontsize=name_size, family=name_font, color='#222222')

        if r == 0:
            peak = [PEAK_A1, PEAK_B1, PEAK_C1][c]
            ann_font = 'DejaVu Serif' if c == 0 else 'Liberation Serif'
            ann_size = 9.2 if c == 0 else 11.5
            ax.text(peak[0], peak[1], '3684 cm$^{-1}$', ha='center', va='center',
                    fontsize=ann_size, family=ann_font, color='#222222')
        if r == 2 and c == 2:
            for wn, top, lx, ly in BANDS_C3:
                ax.vlines(wn, YLIMS[r][0], top, colors='#222222', linestyles=(0, (4, 3)), lw=0.9)
                ax.text(lx, ly, f'{wn} cm$^{{-1}}$', ha='center', va='center',
                        fontsize=11.5, family='Liberation Serif', color='#222222')

col_x = [1112, 2746, 4387]
for c in range(3):
    fig.text(col_x[c] / W, 1 - 52 / H, COLUMN_TITLES[c], ha='center', va='center',
             fontsize=21, family='DejaVu Serif', color='black')
row_y = [504, 1604, 2700]
for r in range(3):
    fig.text(47 / W, 1 - row_y[r] / H, ROW_TITLES[r], ha='center', va='center',
             fontsize=21, family='DejaVu Serif', color='black')

fig.savefig('out.png', dpi=300)
